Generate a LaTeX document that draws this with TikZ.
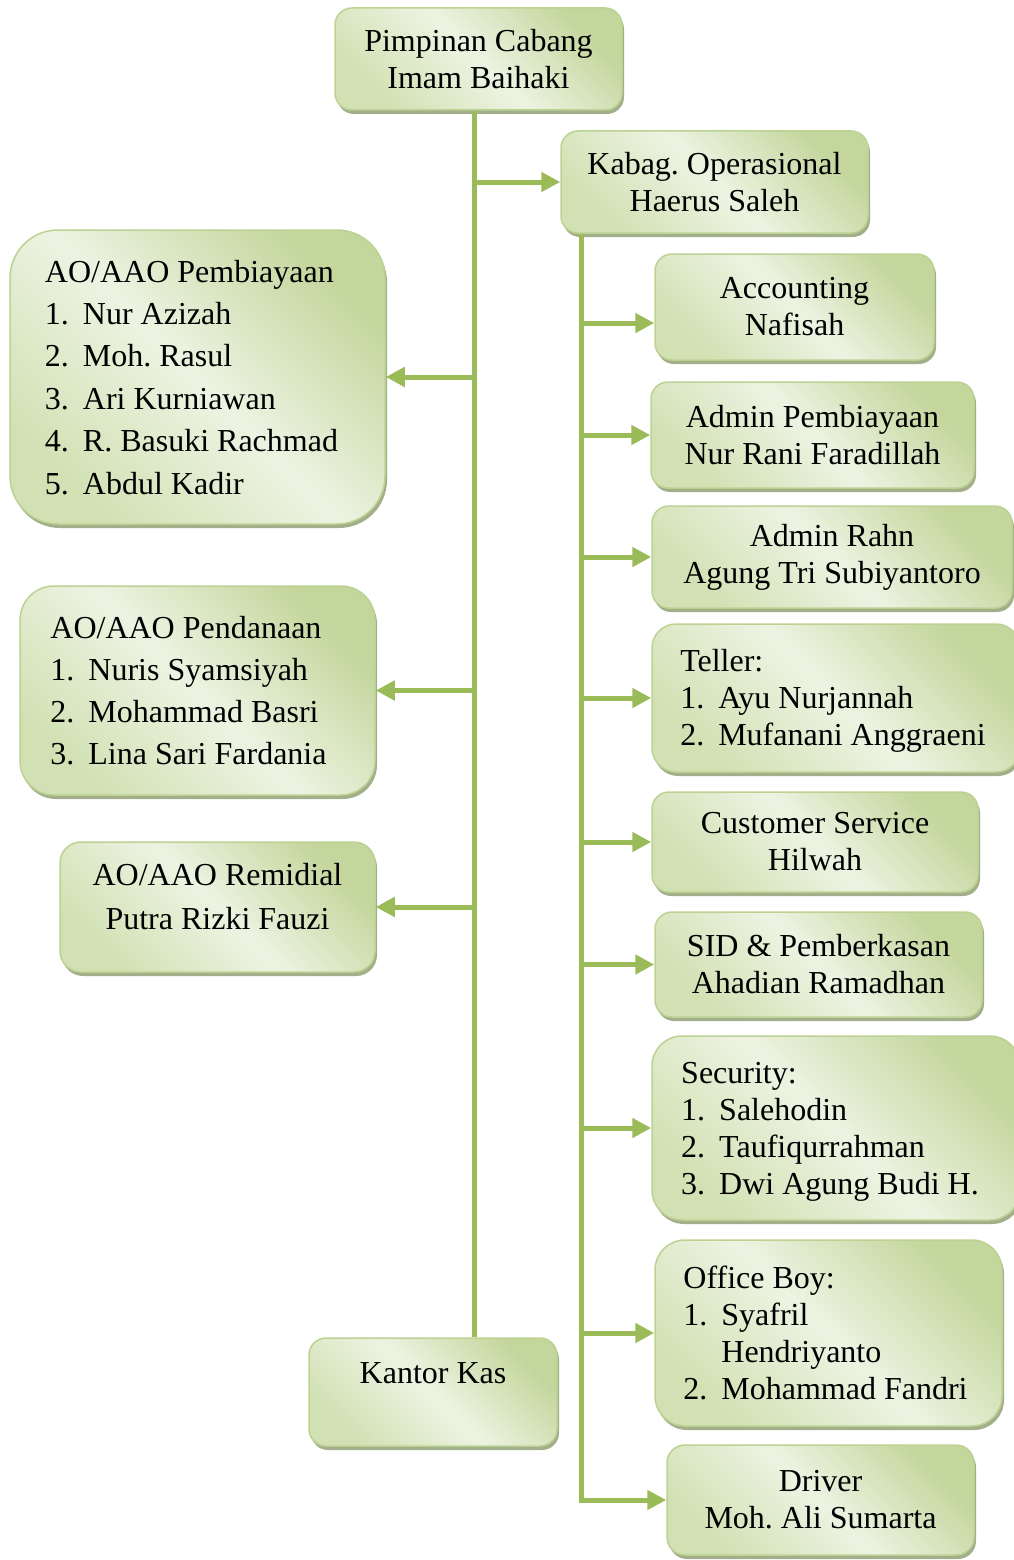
\documentclass[tikz,border=0pt]{standalone}
\usepackage{fontspec}
\setmainfont{Liberation Serif}
\usetikzlibrary{arrows.meta,shadows}

\definecolor{lineGreen}{HTML}{9BBB59}
\definecolor{boxEdge}{HTML}{BCD293}
\definecolor{gDark}{HTML}{C3D69C}
\definecolor{gMid}{HTML}{D2E1B4}
\definecolor{gLight}{HTML}{EDF3E2}
\definecolor{shadowGreen}{HTML}{A3AF8A}

\pgfdeclarehorizontalshading{boxshade}{100bp}{color(0bp)=(gMid); color(25bp)=(gMid); color(50bp)=(gLight); color(75bp)=(gDark); color(100bp)=(gDark)}

\newcommand{\itm}[2]{\makebox[38pt][l]{#1}#2}
\frenchspacing

\begin{document}
\begin{tikzpicture}[x=1pt,y=-1pt,
    orgbox/.style={draw=boxEdge, line width=1.5pt, shading=boxshade, shading angle=45,
        rounded corners=#1, inner sep=0pt,
        drop shadow={shadow xshift=2pt, shadow yshift=-4pt, fill=shadowGreen, opacity=1},
        font=\fontsize{32}{37}\selectfont},
    orgbox/.default=17pt,
    branch/.style={draw=lineGreen, line width=5pt, -{Triangle[length=19pt,width=19pt]}},
    trunk/.style={draw=lineGreen, line width=5pt}]

\useasboundingbox (0,0) rectangle (1014,1560);

% pimpinan dan kabag
\node[orgbox, minimum width=287pt, minimum height=102pt, align=center] (pimpinan) at (478.5,59) {Pimpinan Cabang\\Imam Baihaki};
\node[orgbox, minimum width=307pt, minimum height=102pt, align=center] (kabag) at (714.5,182) {Kabag. Operasional\\Haerus Saleh};

% kolom kiri
\node[orgbox=48pt, minimum width=375pt, minimum height=294pt, align=left, text depth=-6pt, font=\fontsize{32}{42.4}\selectfont] (pembiayaan) at (197.5,377)
    {AO/AAO Pembiayaan\\\itm{1.}{Nur Azizah}\\\itm{2.}{Moh. Rasul}\\\itm{3.}{Ari Kurniawan}\\\itm{4.}{R. Basuki Rachmad}\rule{12pt}{0pt}\\\itm{5.}{Abdul Kadir}};
\node[orgbox=34pt, minimum width=355pt, minimum height=209pt, align=left, font=\fontsize{32}{42}\selectfont] (pendanaan) at (197.5,690.5)
    {AO/AAO Pendanaan\\\itm{1.}{Nuris Syamsiyah}\\\itm{2.}{Mohammad Basri}\\\itm{3.}{Lina Sari Fardania}\hspace*{18pt}};
\node[orgbox=21pt, minimum width=315pt, minimum height=130pt, align=center, text depth=21pt, font=\fontsize{32}{44}\selectfont] (remidial) at (217.5,907)
    {AO/AAO Remidial\\Putra Rizki Fauzi};
\node[orgbox, minimum width=248pt, minimum height=108pt, align=center] (kantorkas) at (433,1392) {Kantor Kas\\\mbox{}};

% kolom kanan
\node[orgbox, minimum width=279pt, minimum height=106pt, align=center] (accounting) at (794.5,307) {Accounting\\Nafisah};
\node[orgbox, minimum width=323pt, minimum height=106pt, align=center] (adminpemb) at (812.5,435) {Admin Pembiayaan\\Nur Rani Faradillah};
\node[orgbox, minimum width=360pt, minimum height=102pt, align=center] (adminrahn) at (832,557) {Admin Rahn\\Agung Tri Subiyantoro};
\node[orgbox=24pt, minimum width=368pt, minimum height=148pt, align=left, text depth=1pt] (teller) at (836,698)
    {Teller:\\\itm{1.}{Ayu Nurjannah}\\\itm{2.}{Mufanani Anggraeni}\hspace*{6pt}};
\node[orgbox, minimum width=326pt, minimum height=100pt, align=center] (cs) at (815,842) {Customer Service\\Hilwah};
\node[orgbox, minimum width=327pt, minimum height=105pt, align=center] (sid) at (818.5,964.5) {SID \& Pemberkasan\\Ahadian Ramadhan};
\node[orgbox=30pt, minimum width=368pt, minimum height=184pt, align=left, text depth=-5pt] (security) at (836,1128)
    {Security:\\\itm{1.}{Salehodin}\\\itm{2.}{Taufiqurrahman}\\\itm{3.}{Dwi Agung Budi H.}\hspace*{12pt}};
\node[orgbox=30pt, minimum width=347pt, minimum height=186pt, align=left] (officeboy) at (828.5,1333)
    {Office Boy:\\\itm{1.}{Syafril}\\\hspace*{38pt}Hendriyanto\\\itm{2.}{Mohammad Fandri}\hspace*{6pt}};
\node[orgbox=18pt, minimum width=307pt, minimum height=110pt, align=center] (driver) at (820.5,1500) {Driver\\Moh. Ali Sumarta};

% garis
\coordinate (t) at ([xshift=-4.5pt]pimpinan.south);
\coordinate (k) at ([xshift=21pt]kabag.south west);
\draw[trunk] (t) -- (t |- kantorkas.north);
\draw[branch] (t |- kabag.west) -- (kabag.west);
\foreach \n in {pembiayaan,pendanaan,remidial}
    \draw[branch] (t |- \n.east) -- (\n.east);
\draw[branch] (k) |- (driver.west);
\draw[branch] (k |- 0,323) -- (accounting.west |- 0,323);
\foreach \n in {adminpemb,adminrahn,teller,cs,sid,security,officeboy}
    \draw[branch] (k |- \n.west) -- (\n.west);

\end{tikzpicture}
\end{document}
